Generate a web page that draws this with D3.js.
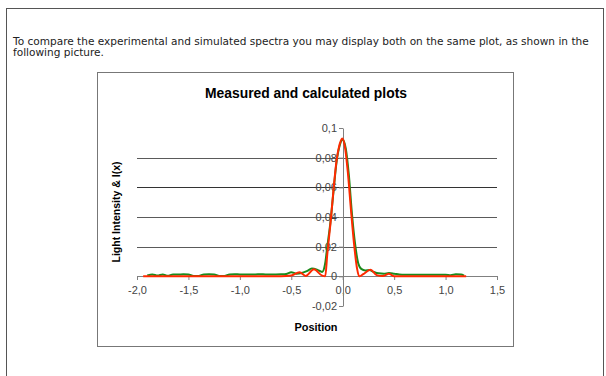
<!DOCTYPE html>
<html>
<head>
<meta charset="utf-8">
<script src="https://cdn.jsdelivr.net/npm/d3@7"></script>
<style>
  body { margin: 0; background: #fff; }
  svg { display: block; }
</style>
</head>
<body>
<div id="chart"></div>
<script>
// measured spectrum (green)
const posMeasured = [-1.9, -1.85, -1.8, -1.75, -1.7, -1.65, -1.6, -1.55, -1.5, -1.45, -1.4, -1.35, -1.3, -1.25, -1.2, -1.15, -1.1, -1.05, -1.0, -0.95, -0.9, -0.85, -0.8, -0.75, -0.7, -0.65, -0.6, -0.55, -0.5, -0.45, -0.4, -0.35, -0.3, -0.25, -0.2, -0.17, -0.15, -0.12, -0.09, -0.06, -0.03, 0.0, 0.03, 0.06, 0.09, 0.12, 0.15, 0.18, 0.22, 0.26, 0.3, 0.35, 0.4, 0.45, 0.5, 0.55, 0.6, 0.65, 0.7, 0.75, 0.8, 0.85, 0.9, 0.95, 1.0, 1.05, 1.1, 1.15, 1.18];
const valMeasured = [0.0006, 0.0013, 0.0005, 0.0013, 0.0004, 0.0013, 0.0012, 0.0014, 0.0013, 0.0003, 0.0003, 0.0013, 0.0014, 0.0013, 0.0003, 0.0003, 0.0013, 0.0014, 0.0013, 0.0013, 0.0013, 0.0013, 0.0014, 0.0013, 0.0013, 0.0013, 0.0014, 0.0016, 0.0028, 0.0018, 0.0022, 0.0035, 0.0052, 0.0045, 0.003, 0.009, 0.02, 0.036, 0.057, 0.077, 0.088, 0.092, 0.086, 0.068, 0.042, 0.022, 0.009, 0.005, 0.004, 0.0042, 0.003, 0.002, 0.0018, 0.0022, 0.0018, 0.0013, 0.0011, 0.0011, 0.0011, 0.0011, 0.0011, 0.0011, 0.0011, 0.0011, 0.0011, 0.0008, 0.0014, 0.0012, 0.0005];

// calculated spectrum (red)
const posCalc = [-1.94, -1.5, -1.0, -0.6, -0.5, -0.42, -0.36, -0.28, -0.2, -0.17, -0.15, -0.12, -0.09, -0.06, -0.03, -0.005, 0.02, 0.05, 0.08, 0.11, 0.14, 0.16, 0.2, 0.27, 0.33, 0.39, 0.45, 0.5, 0.6, 0.8, 1.0, 1.2];
const valCalc = [0, 0, 0, 0, 0.0005, 0.0027, 0.0003, 0.0047, 0.0005, 0, 0.015, 0.035, 0.058, 0.078, 0.089, 0.093, 0.088, 0.07, 0.045, 0.022, 0.005, 0, 0.0015, 0.0045, 0.0008, 0.0002, 0.0018, 0, 0, 0, 0, 0];

const xTicks = [-2, -1.5, -1, -0.5, 0, 0.5, 1, 1.5];
const xLabels = ["-2,0", "-1,5", "-1,0", "-0,5", "0,0", "0,5", "1,0", "1,5"];
const yTicks = [-0.02, 0, 0.02, 0.04, 0.06, 0.08, 0.1];
const yLabels = ["-0,02", "0", "0,02", "0,04", "0,06", "0,08", "0,1"];
const gridTicks = [0.02, 0.04, 0.06, 0.08];

const W = 606, H = 376;
const svg = d3.select("#chart").append("svg")
  .attr("width", W)
  .attr("height", H);

// page frame
svg.append("rect")
  .attr("x", 6.5).attr("y", 8.5)
  .attr("width", 597).attr("height", 380)
  .attr("fill", "none")
  .attr("stroke", "#555");

// intro text, sized to span the frame like the original
const intro = svg.append("g")
  .attr("font-family", "DejaVu Sans, Verdana, sans-serif")
  .attr("fill", "#222");
const line1 = intro.append("text")
  .attr("x", 13).attr("y", 45)
  .attr("font-size", 9)
  .text("To compare the experimental and simulated spectra you may display both on the same plot, as shown in the");
const fs = 9 * 576 / line1.node().getComputedTextLength();
line1.attr("font-size", fs);
intro.append("text")
  .attr("x", 13).attr("y", 56)
  .attr("font-size", fs)
  .text("following picture.");

// chart area box
svg.append("rect")
  .attr("x", 97.5).attr("y", 72.5)
  .attr("width", 416).attr("height", 274)
  .attr("fill", "#fff")
  .attr("stroke", "#777");

const x = d3.scaleLinear().domain([-2, 1.5]).range([137, 497]);
const y = d3.scaleLinear().domain([-0.02, 0.1]).range([306, 128]);

// gridlines
svg.append("g")
  .selectAll("line")
  .data(gridTicks).enter()
  .append("line")
  .attr("x1", x(-2)).attr("x2", x(1.5))
  .attr("y1", d => Math.round(y(d)) + 0.5)
  .attr("y2", d => Math.round(y(d)) + 0.5)
  .attr("stroke", d => d === 0.06 ? "#333" : "#5a5a5a");

// axes
const xAxis = d3.axisBottom(x)
  .tickValues(xTicks)
  .tickFormat((d, i) => xLabels[i])
  .tickSize(4)
  .tickSizeOuter(0)
  .tickPadding(6);
const yAxis = d3.axisLeft(y)
  .tickValues(yTicks)
  .tickFormat((d, i) => yLabels[i])
  .tickSize(4)
  .tickSizeOuter(0)
  .tickPadding(2);

const gx = svg.append("g")
  .attr("transform", `translate(0, ${Math.round(y(0))})`)
  .call(xAxis);
const gy = svg.append("g")
  .attr("transform", `translate(${Math.round(x(0))}, 0)`)
  .call(yAxis);

[gx, gy].forEach(g => {
  g.selectAll("path, line").attr("stroke", "#808080");
  g.selectAll("text")
    .attr("fill", "#444")
    .attr("font-family", "Liberation Sans, Arial, sans-serif")
    .attr("font-size", 11);
});

// spectra
const line = d3.line()
  .x(d => x(d[0]))
  .y(d => y(d[1]))
  .curve(d3.curveMonotoneX);

const measured = posMeasured.map((p, i) => [p, valMeasured[i]]);
const calc = posCalc.map((p, i) => [p, valCalc[i]]);

svg.append("path")
  .attr("d", line(measured))
  .attr("fill", "none")
  .attr("stroke", "#1b8a1b")
  .attr("stroke-width", 2);

svg.append("path")
  .attr("d", line(calc))
  .attr("fill", "none")
  .attr("stroke", "#ff2a00")
  .attr("stroke-width", 2);

// titles
const titleFont = "Liberation Sans, Arial, sans-serif";
svg.append("text")
  .attr("x", 306).attr("y", 98)
  .attr("text-anchor", "middle")
  .attr("font-family", titleFont)
  .attr("font-weight", "bold")
  .attr("font-size", 15)
  .attr("textLength", 202)
  .attr("lengthAdjust", "spacingAndGlyphs")
  .text("Measured and calculated plots");

svg.append("text")
  .attr("x", 316).attr("y", 331)
  .attr("text-anchor", "middle")
  .attr("font-family", titleFont)
  .attr("font-weight", "bold")
  .attr("font-size", 11)
  .attr("textLength", 43)
  .attr("lengthAdjust", "spacingAndGlyphs")
  .text("Position");

svg.append("text")
  .attr("transform", "translate(120, 212) rotate(-90)")
  .attr("text-anchor", "middle")
  .attr("font-family", titleFont)
  .attr("font-weight", "bold")
  .attr("font-size", 11)
  .attr("textLength", 101)
  .attr("lengthAdjust", "spacingAndGlyphs")
  .text("Light Intensity & I(x)");
</script>
</body>
</html>
